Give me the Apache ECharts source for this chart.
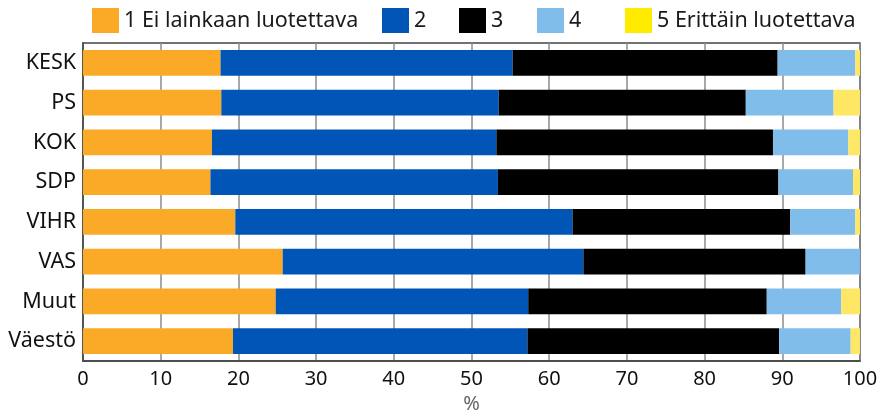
<!DOCTYPE html>
<html>
<head>
<meta charset="utf-8">
<script src="https://cdn.jsdelivr.net/npm/echarts@6/dist/echarts.min.js"></script>
<style>
  html, body { margin: 0; padding: 0; background: #fff; }
  #chart { width: 881px; height: 416px; }
</style>
</head>
<body>
<div id="chart"></div>
<script>
// puolueet ylhäältä alas
const categories = ['KESK', 'PS', 'KOK', 'SDP', 'VIHR', 'VAS', 'Muut', 'Väestö']
const seriesNames = ['1 Ei lainkaan luotettava', '2', '3', '4', '5 Erittäin luotettava']
// osuudet (%) kullekin vastausvaihtoehdolle
const val1 = [17.7, 17.8, 16.6, 16.4, 19.6, 25.7, 24.8, 19.3]
const val2 = [37.6, 35.7, 36.6, 37.0, 43.4, 38.7, 32.5, 37.9]
const val3 = [34.1, 31.8, 35.6, 36.1, 28.0, 28.6, 30.7, 32.4]
const val4 = [10.0, 11.3, 9.7, 9.6, 8.4, 7.0, 9.6, 9.2]
const val5 = [0.6, 3.4, 1.5, 0.9, 0.6, 0, 2.4, 1.2]
const xTicks = [0, 10, 20, 30, 40, 50, 60, 70, 80, 90, 100]

const barColors = ['#fbaa27', '#0055b7', '#000000', '#80bdea', '#ffe766']
const legendColors = ['#fbaa27', '#0055b7', '#000000', '#80bdea', '#ffeb00']
const legendLeft = [92, 382, 459, 537, 625]
const font = '"Noto Sans", "Open Sans", sans-serif'

const chart = echarts.init(document.getElementById('chart'))
const allValues = [val1, val2, val3, val4, val5]

chart.setOption({
  animation: false,
  textStyle: { fontFamily: font },
  // jokaiselle selitteelle oma legend, jotta paikat osuvat
  legend: seriesNames.map((name, i) => ({
    data: [{ name: name, itemStyle: { color: legendColors[i] } }],
    left: legendLeft[i],
    top: 8,
    padding: 0,
    icon: 'rect',
    itemWidth: 27,
    itemHeight: 25,
    selectedMode: false,
    textStyle: { fontSize: 21.5, color: '#1a1a1a', fontFamily: font }
  })),
  grid: {
    left: 83,
    right: 21,
    top: 43,
    bottom: 55,
    outerBoundsMode: 'none',
    containLabel: false,
    show: true,
    borderColor: '#444',
    borderWidth: 1.5
  },
  xAxis: {
    type: 'value',
    min: xTicks[0],
    max: xTicks[xTicks.length - 1],
    interval: 10,
    name: '%',
    nameLocation: 'middle',
    nameGap: 33,
    nameTextStyle: { fontSize: 20, color: '#666' },
    axisLine: { show: true, lineStyle: { color: '#444', width: 1.5 } },
    axisTick: { show: false },
    axisLabel: { fontSize: 20, color: '#111', margin: 8 },
    splitLine: { show: true, lineStyle: { color: '#8c8c8c', width: 1.5 } }
  },
  yAxis: {
    type: 'category',
    data: categories,
    inverse: true,
    axisLine: { show: true, lineStyle: { color: '#444', width: 1.5 } },
    axisTick: { show: false },
    axisLabel: { fontSize: 21.5, color: '#111', margin: 7 }
  },
  series: seriesNames.map((name, i) => ({
    name: name,
    type: 'bar',
    stack: 'total',
    barCategoryGap: '35%',
    data: allValues[i],
    itemStyle: { color: barColors[i] }
  }))
})
</script>
</body>
</html>
